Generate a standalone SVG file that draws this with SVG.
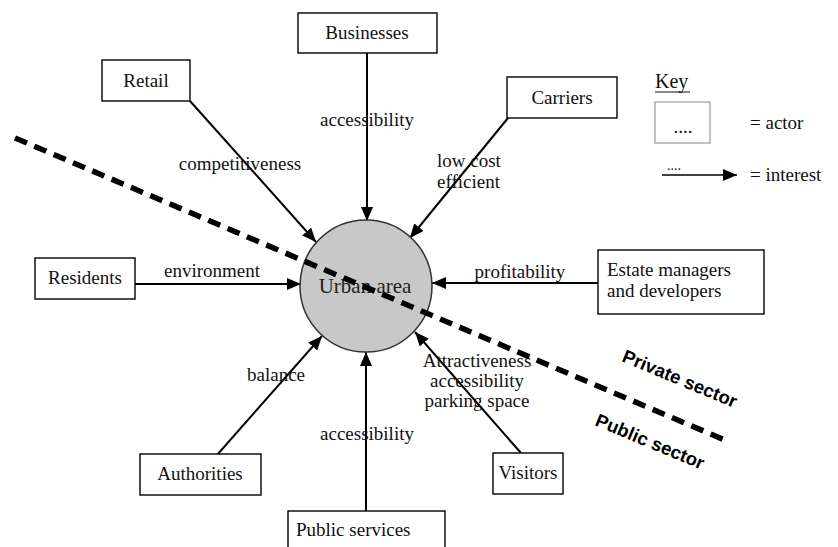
<svg xmlns="http://www.w3.org/2000/svg" width="838" height="547" viewBox="0 0 838 547" font-family="Liberation Serif, serif">
<defs>
<marker id="ah" markerUnits="userSpaceOnUse" markerWidth="14" markerHeight="12" refX="14" refY="6" orient="auto">
<path d="M0,0 L14,6 L0,12 z" fill="#000"/>
</marker>
<style>
.box{fill:#fff;stroke:#000;stroke-width:1.4}
.t{font-size:19px;fill:#111}
.m{text-anchor:middle}
.c{stroke:#000;stroke-width:2;fill:none;marker-end:url(#ah)}
.s{font-family:'Liberation Sans',Arial,sans-serif;font-size:18.5px;font-weight:bold;fill:#000}
</style>
</defs>
<rect width="838" height="547" fill="#fff"/>
<g id="connectors">
<line class="c" x1="367" y1="53" x2="367" y2="221"/>
<line class="c" x1="190" y1="101" x2="316" y2="242"/>
<line class="c" x1="508" y1="118" x2="410" y2="238"/>
<line class="c" x1="135" y1="284" x2="301" y2="284"/>
<line class="c" x1="598" y1="283" x2="432" y2="283"/>
<line class="c" x1="217" y1="455" x2="322" y2="336"/>
<line class="c" x1="366" y1="511" x2="366" y2="352"/>
<line class="c" x1="521" y1="453" x2="415" y2="332"/>
<text class="t m" x="367" y="126">accessibility</text>
<text class="t m" x="240" y="170">competitiveness</text>
<text class="t" x="437" y="167">low cost</text>
<text class="t" x="437" y="188">efficient</text>
<text class="t m" x="212" y="277">environment</text>
<text class="t m" x="520" y="278">profitability</text>
<text class="t m" x="276" y="381">balance</text>
<text class="t m" x="367" y="440">accessibility</text>
<text class="t m" x="477" y="367">Attractiveness</text>
<text class="t m" x="477" y="387">accessibility</text>
<text class="t m" x="477" y="407">parking space</text>
</g>
<g id="urban-area">
<circle cx="366" cy="286" r="66" fill="#c8c8c8" stroke="#333" stroke-width="1.5"/>
<text class="t m" x="365" y="293" style="font-size:21px;fill:#222">Urban area</text>
</g>
<g id="businesses">
<rect class="box" x="298" y="13" width="139" height="40"/>
<text class="t m" x="367" y="39">Businesses</text>
</g>
<g id="retail">
<rect class="box" x="102" y="60" width="88" height="41"/>
<text class="t m" x="146" y="87">Retail</text>
</g>
<g id="carriers">
<rect class="box" x="507" y="77" width="110" height="41"/>
<text class="t m" x="562" y="104">Carriers</text>
</g>
<g id="residents">
<rect class="box" x="35" y="258" width="100" height="41"/>
<text class="t m" x="85" y="284">Residents</text>
</g>
<g id="estate">
<rect class="box" x="598" y="250" width="166" height="64"/>
<text class="t" x="607" y="276">Estate managers</text>
<text class="t" x="607" y="297">and developers</text>
</g>
<g id="authorities">
<rect class="box" x="140" y="454" width="121" height="41"/>
<text class="t m" x="200" y="480">Authorities</text>
</g>
<g id="public-services">
<rect class="box" x="288" y="511" width="157" height="50"/>
<text class="t" x="296" y="536">Public services</text>
</g>
<g id="visitors">
<rect class="box" x="493" y="453" width="70" height="41"/>
<text class="t m" x="528" y="479">Visitors</text>
</g>
<g id="divider">
<line x1="15" y1="138" x2="727" y2="441" stroke="#000" stroke-width="5.5" stroke-dasharray="13,8"/>
<text class="s" transform="translate(621,361) rotate(22.6)">Private sector</text>
<text class="s" transform="translate(594,425) rotate(22.6)">Public sector</text>
</g>
<g id="key">
<text class="t" x="655" y="88" style="font-size:20px">Key</text>
<line x1="655" y1="92" x2="690" y2="92" stroke="#111" stroke-width="1.2"/>
<rect x="655" y="102" width="55" height="41" fill="#fff" stroke="#999" stroke-width="1.2"/>
<text class="t m" x="683" y="133">....</text>
<text class="t" x="750" y="129">=  actor</text>
<text class="t" x="667" y="170" style="font-size:14px">....</text>
<line x1="662" y1="175" x2="737" y2="175" stroke="#000" stroke-width="1.5" marker-end="url(#ah)"/>
<text class="t" x="750" y="181">=  interest</text>
</g>
</svg>
